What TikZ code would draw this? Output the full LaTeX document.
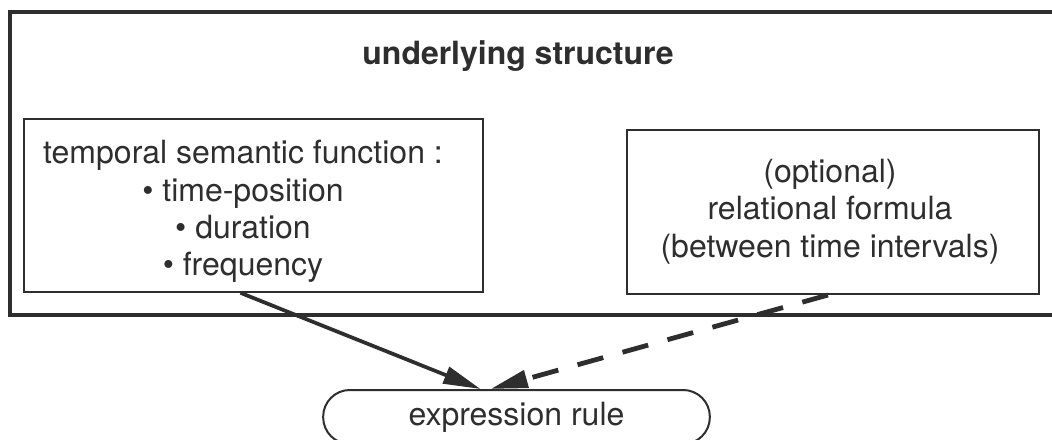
\documentclass[tikz,border=0pt]{standalone}
\usepackage{fontspec}
\setmainfont{TeX Gyre Heros}
\usepackage{tikz}
\usetikzlibrary{arrows.meta,calc}
\definecolor{ink}{HTML}{2E2E2E}

\begin{document}
\begin{tikzpicture}[x=0.75pt, y=-0.75pt,
    outer/.style={rectangle, draw=ink, line width=2.8pt, minimum width=789pt, minimum height=227pt},
    box/.style={rectangle, draw=ink, line width=1.5pt},
    txt/.style={text=ink, font=\fontsize{24}{28}\selectfont, align=center},
    rulebox/.style={rectangle, rounded corners=20pt, draw=ink, line width=1.5pt, minimum width=290pt, minimum height=40.5pt, font=\fontsize{24}{28}\selectfont, text=ink},
    arrow/.style={-{Triangle[length=28pt, width=13pt]}, line width=2.8pt, ink},
    dasharrow/.style={arrow, line width=3.6pt, dash pattern=on 20pt off 15pt}
]
    \path[use as bounding box, clip] (0,0) rectangle (1052,439);

    \node[outer] (frame) at (536,163.5) {};
    \node[txt, font=\fontsize{24}{28}\selectfont\bfseries] (title) at (518,56) {underlying structure};

    \node[box, minimum width=344pt, minimum height=129.5pt] (tsf) at (253.5,205.5) {};
    \node[txt] (tsftext) at (243,211.5) {temporal semantic function :\\ \textbullet{} time-position\\ \textbullet{} duration\\ \textbullet{} frequency};

    \node[box, minimum width=309pt, minimum height=123pt] (rel) at (833,212) {};
    \node[txt] (reltext) at (830,211.5) {(optional)\\ relational formula\\ (between time intervals)};

    \node[rulebox] (expr) at (516.5,417) {expression rule};

    \draw[arrow] ($(tsf.south)+(-13,0)$) -- ($(expr.north)+(-36,0)$);
    \draw[dasharrow] ($(rel.south)+(-5,0)$) -- ($(expr.north)+(-26,0)$);
\end{tikzpicture}
\end{document}
